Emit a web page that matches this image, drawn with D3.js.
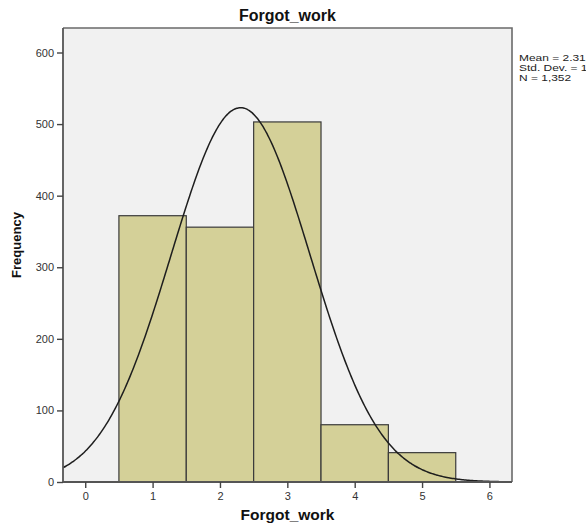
<!DOCTYPE html>
<html>
<head>
<meta charset="utf-8">
<script src="https://cdn.jsdelivr.net/npm/d3@7"></script>
<style>
  html, body { margin: 0; padding: 0; background: #ffffff; overflow: hidden; }
  svg { display: block; font-family: "Liberation Sans", Arial, sans-serif; }
</style>
</head>
<body>
<svg id="chart" width="586" height="529"></svg>
<script>
// Histogram of Forgot_work responses with a fitted normal curve
const binCenters = [1, 2, 3, 4, 5];
const frequencies = [372, 356, 503, 80, 41];
const xTicks = [0, 1, 2, 3, 4, 5, 6];
const yTicks = [0, 100, 200, 300, 400, 500, 600];
const binWidth = 1;

const title = "Forgot_work";
const xTitle = "Forgot_work";
const yTitle = "Frequency";

// Summary statistics from the bin counts
const N = d3.sum(frequencies);
const mean = d3.sum(binCenters, (c, i) => c * frequencies[i]) / N;
const variance = d3.sum(binCenters, (c, i) => frequencies[i] * (c - mean) ** 2) / (N - 1);
const sd = Math.sqrt(variance);

const legendLines = [
  "Mean = " + mean.toFixed(2),
  "Std. Dev. = " + sd.toFixed(3),
  "N = " + d3.format(",")(N)
];

const svg = d3.select("#chart");
const plot = { left: 63, right: 512, top: 28, bottom: 482 };

const x = d3.scaleLinear().domain([-0.33, 6.335]).range([plot.left, plot.right]);
const y = d3.scaleLinear().domain([0, 600]).range([plot.bottom, 52.5]);

// Plot background
svg.append("rect")
  .attr("x", plot.left).attr("y", plot.top)
  .attr("width", plot.right - plot.left).attr("height", plot.bottom - plot.top)
  .attr("fill", "#f1f1f1");

svg.append("clipPath").attr("id", "plotClip")
  .append("rect")
  .attr("x", plot.left).attr("y", plot.top)
  .attr("width", plot.right - plot.left).attr("height", plot.bottom - plot.top);

// Bars
svg.append("g").selectAll("rect")
  .data(binCenters)
  .join("rect")
  .attr("x", d => x(d - binWidth / 2))
  .attr("width", d => x(d + binWidth / 2) - x(d - binWidth / 2))
  .attr("y", (d, i) => y(frequencies[i]))
  .attr("height", (d, i) => y(0) - y(frequencies[i]))
  .attr("fill", "#d4d098")
  .attr("stroke", "#3a3a3a")
  .attr("stroke-width", 1.2);

// Fitted normal curve
const curvePts = d3.range(-0.33, 6.34, 0.02).map(v => [
  v,
  N * binWidth / (sd * Math.sqrt(2 * Math.PI)) * Math.exp(-0.5 * ((v - mean) / sd) ** 2)
]);
svg.append("path")
  .datum(curvePts)
  .attr("clip-path", "url(#plotClip)")
  .attr("fill", "none")
  .attr("stroke", "#1e1e1e")
  .attr("stroke-width", 1.5)
  .attr("d", d3.line().x(d => x(d[0])).y(d => y(d[1])).curve(d3.curveBasis));

// Frame (top and right)
svg.append("path")
  .attr("d", `M${plot.left},${plot.top}H${plot.right}V${plot.bottom}`)
  .attr("fill", "none")
  .attr("stroke", "#6a6a6a")
  .attr("stroke-width", 1.6);

// Axes
const xAxis = svg.append("g")
  .attr("transform", `translate(0,${plot.bottom})`)
  .call(d3.axisBottom(x).tickValues(xTicks).tickFormat(d3.format("d"))
    .tickSize(6).tickSizeOuter(0).tickPadding(4));
const yAxis = svg.append("g")
  .attr("transform", `translate(${plot.left},0)`)
  .call(d3.axisLeft(y).tickValues(yTicks).tickFormat(d3.format("d"))
    .tickSize(6).tickSizeOuter(0).tickPadding(3));

[xAxis, yAxis].forEach(g => {
  g.select(".domain").attr("stroke", "#555").attr("stroke-width", 1.8);
  g.selectAll(".tick line").attr("stroke", "#444").attr("stroke-width", 1.4);
  g.selectAll(".tick text").attr("fill", "#333").attr("font-size", 11)
    .attr("font-family", "'Liberation Sans', Arial, sans-serif");
});
xAxis.select(".domain").attr("d", `M${plot.left},0H${plot.right}`);
yAxis.select(".domain").attr("d", `M0,${plot.bottom}V${plot.top}`);

// Titles
svg.append("text")
  .attr("x", (plot.left + plot.right) / 2).attr("y", 21)
  .attr("text-anchor", "middle")
  .attr("font-weight", "bold").attr("font-size", 16).attr("fill", "#111")
  .text(title);

svg.append("text")
  .attr("x", (plot.left + plot.right) / 2).attr("y", 520)
  .attr("text-anchor", "middle")
  .attr("font-weight", "bold").attr("font-size", 15.5).attr("fill", "#111")
  .text(xTitle);

svg.append("text")
  .attr("transform", "translate(21,245) rotate(-90)")
  .attr("text-anchor", "middle")
  .attr("font-weight", "bold").attr("font-size", 13).attr("fill", "#111")
  .text(yTitle);

// Statistics legend, to the right of the plot frame
const legend = svg.append("g").attr("transform", "translate(519,0) scale(1.3,1)");
legend.selectAll("text")
  .data(legendLines)
  .join("text")
  .attr("x", 0)
  .attr("y", (d, i) => 61.5 + i * 9.6)
  .attr("font-size", 9.2)
  .attr("fill", "#222")
  .text(d => d);
</script>
</body>
</html>
